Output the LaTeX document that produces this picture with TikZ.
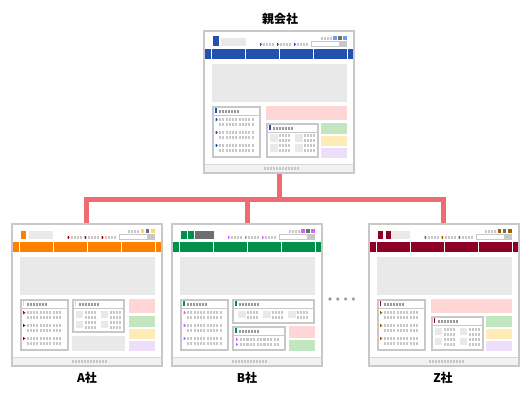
\documentclass[tikz,border=0pt]{standalone}
\usepackage{fontspec}
\newfontfamily\cjk{Noto Sans CJK JP}
\pgfdeclarelayer{background}
\pgfsetlayers{background,main}
\definecolor{fr}{HTML}{C8C8C8}
\definecolor{lg}{HTML}{E9E9E9}
\definecolor{tg}{HTML}{C8C8C8}
\definecolor{hg}{HTML}{999999}
\definecolor{dg}{HTML}{6E6E6E}
\definecolor{pk}{HTML}{FFD6D6}
\definecolor{gn}{HTML}{C2E6C0}
\definecolor{yl}{HTML}{FFEBB5}
\definecolor{pu}{HTML}{EDDEFC}
\definecolor{ft}{HTML}{F2F2F2}
\definecolor{cn}{RGB}{236,108,114}
\definecolor{pblue}{HTML}{2451AF}
\definecolor{plight}{HTML}{6B9BF2}
\definecolor{aor}{HTML}{FF8000}
\definecolor{ayl}{HTML}{FFD966}
\definecolor{ard}{HTML}{A80000}
\definecolor{bgr}{HTML}{00904A}
\definecolor{bpu}{HTML}{CC66FF}
\definecolor{zrd}{HTML}{8E0025}
\definecolor{zbr}{HTML}{A06000}

\newcommand\sqrow[5][3]{\foreach \sqi in {1,...,#4}{\fill[#5] ({#2+(\sqi-1)*#1},{#3}) rectangle ++(2.2,3);}}
\newcommand\flag[2]{\fill[ar] ({#1},{#2}) rectangle ++(0.8,3);\fill[ar] ({#1},{#2}) -- ++(2.3,1.5) -- ++(-2.3,1.5) -- cycle;}
\newcommand\panel[4]{%
  \draw[fr, line width=2pt] ({#1+1},{#2+1}) rectangle ({#3-1},{#4-1});
  \fill[hm] ({#1+3},{#2+2}) rectangle ++(1.7,5);
  \sqrow{#1+7}{#2+4}{7}{hg}
  \draw[fr, line width=1pt] ({#1+2},{#2+9.5}) -- ({#3-2},{#2+9.5});}
\newcommand\listbox[4]{%
  \panel{#1}{#2}{#1+#3}{#2+#4}
  \foreach \dy in {12.3,25,38}{\flag{#1+3.7}{#2+\dy}\sqrow[3.25]{#1+7}{#2+\dy}{11}{tg}\sqrow[3.25]{#1+7}{#2+\dy+4.7}{11}{tg}}}
\newcommand\tilebox[7]{%
  \panel{#1}{#2}{#1+#3}{#2+#4}
  \foreach \tcol in {1,...,#5}{\foreach \trow in {1,...,#6}{%
    \fill[lg] ({#1+#7+25*(\tcol-1)},{#2+11.7+10*(\trow-1)}) rectangle ++(7.7,7.7);
    \sqrow{#1+#7+25*(\tcol-1)+9}{#2+11.7+10*(\trow-1)}{4}{tg}
    \sqrow{#1+#7+25*(\tcol-1)+9}{#2+11.7+10*(\trow-1)+5}{4}{tg}}}}
\newcommand\pagecommon{%
  \sqrow{117.7}{6.7}{4}{tg}
  \fill[ac] (130,6) rectangle ++(3.7,3.7);
  \fill[dg] (135,6) rectangle ++(3.7,3.7);
  \fill[ac] (140.3,6) rectangle ++(3.7,3.7);
  \foreach \gx in {57,74,91}{\flag{\gx}{12.7}\sqrow{\gx+3}{12.7}{4}{tg}}
  \draw[fr, line width=0.8pt, fill=white] (108.4,11.1) rectangle (143.6,16.3);
  \fill[fr] (136,10.7) rectangle (144,16.7);
  \fill[mc] (2,18.7) rectangle (150,29);
  \foreach \sx in {8.8,42.8,76.8,110.8,144.8}{\draw[white,line width=1pt] (\sx,18.7) -- (\sx,29);}
  \fill[lg] (9,34) rectangle (144,72);
  \fill[ft] (2,134) rectangle (150,142);
  \draw[fr!70, line width=0.8pt] (2,134.4) -- (150,134.4);
  \sqrow{61}{136.7}{12}{tg}}

\begin{document}
\begin{tikzpicture}[x=1pt,y=-1pt,
  frame/.style={draw=fr, line width=2pt, fill=white, inner sep=0, outer sep=0, minimum width=150pt, minimum height=142pt},
  conn/.style={draw=cn, line width=5pt, line join=miter},
  lbl/.style={font=\cjk\bfseries\fontsize{12}{14}\selectfont, inner sep=0}]
\useasboundingbox (0,0) rectangle (530,400);

% frames
\node[frame] (p) at (279,102) {};
\node[frame] (a) at (86.5,295) {};
\node[frame] (b) at (247,295) {};
\node[frame] (z) at (443.5,295) {};

% connectors (behind the frames)
\coordinate (bar) at (0,199.5);
\begin{pgfonlayer}{background}
\fill[white] (0,0) rectangle (530,400);
\draw[conn] (a.north) |- (bar -| z.north) -- (z.north);
\draw[conn] (p.south) -- (p.south |- bar);
\draw[conn] (b.north) -- (b.north |- bar);
\end{pgfonlayer}

% parent page
\begin{scope}[shift={(203,30)}]
  \colorlet{mc}{pblue}\colorlet{ac}{plight}\colorlet{ar}{pblue}\colorlet{hm}{pblue}
  \pagecommon
  \fill[mc] (10,6) rectangle (15.7,15.7);
  \fill[lg] (18,7.7) rectangle (42.7,15.7);
  \listbox{9}{76}{49}{51.7}
  \fill[pk] (63,76) rectangle (144,90);
  \tilebox{63}{92.7}{53}{35}{2}{2}{4}
  \fill[gn] (118,92.7) rectangle (144,104);
  \fill[yl] (118,106) rectangle (144,115.7);
  \fill[pu] (118,117.7) rectangle (144,127.7);
\end{scope}

% A page
\begin{scope}[shift={(10.5,223)}]
  \colorlet{mc}{aor}\colorlet{ac}{ayl}\colorlet{ar}{ard}\colorlet{hm}{ayl}
  \pagecommon
  \fill[mc] (10,8) rectangle (15.7,15.7);
  \fill[lg] (18,8) rectangle (42.7,15.7);
  \listbox{9}{76}{49}{51.7}
  \tilebox{61}{76}{53}{33.7}{2}{2}{4}
  \fill[lg] (61,113) rectangle (114,127.7);
  \fill[pk] (118,76) rectangle (144,90);
  \fill[gn] (118,93.3) rectangle (144,104);
  \fill[yl] (118,106) rectangle (144,116);
  \fill[pu] (118,118) rectangle (144,128);
\end{scope}

% B page
\begin{scope}[shift={(171,223)}]
  \colorlet{mc}{bgr}\colorlet{ac}{bpu}\colorlet{ar}{bpu}\colorlet{hm}{bgr}
  \pagecommon
  \fill[mc] (10,8) rectangle (15.7,15.7);
  \fill[mc] (17,8) rectangle (22.7,15.7);
  \fill[dg] (24,8) rectangle (43,15.7);
  \listbox{9}{76}{49}{51.7}
  \tilebox{61}{76}{83}{24.7}{3}{1}{6}
  \panel{61}{103}{115}{127.7}
  \foreach \dy in {115,120}{\flag{65}{\dy}\sqrow[3.4]{68.5}{\dy}{12}{tg}}
  \fill[pk] (118,103) rectangle (144,115);
  \fill[gn] (118,117) rectangle (144,127.7);
\end{scope}

% Z page
\begin{scope}[shift={(367.5,223)}]
  \colorlet{mc}{zrd}\colorlet{ac}{zbr}\colorlet{ar}{zbr}\colorlet{hm}{zrd}
  \pagecommon
  \fill[mc] (10,8) rectangle (15.7,15.7);
  \fill[mc] (18,8) rectangle (23.7,15.7);
  \fill[lg] (23.7,8) rectangle (42.7,15.7);
  \listbox{9}{76}{49}{51.7}
  \fill[pk] (63,76) rectangle (144,90);
  \tilebox{63}{93}{53}{34.7}{2}{2}{4}
  \fill[gn] (118,93) rectangle (144,104);
  \fill[yl] (118,106) rectangle (144,116);
  \fill[pu] (118,118) rectangle (144,128);
\end{scope}

% ellipsis dots
\foreach \dx in {330,337.8,345.6,353.4}{\fill[hg] (\dx,299) circle (1.8);}

% labels
\node[lbl] (tp) at (280,19) {親会社};
\node[lbl] (ta) at (87,378) {A社};
\node[lbl] (tb) at (247,378) {B社};
\node[lbl] (tz) at (443,378) {Z社};
\end{tikzpicture}
\end{document}
